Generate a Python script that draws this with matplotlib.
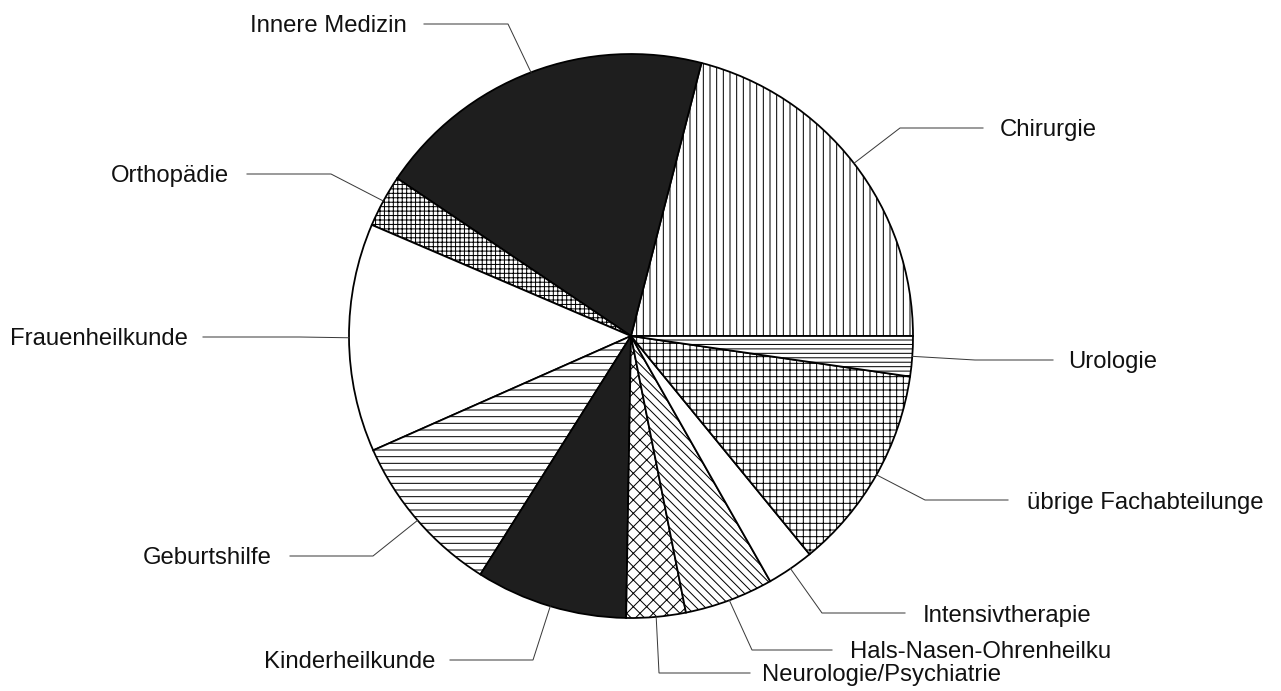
import matplotlib
matplotlib.use("Agg")
import matplotlib.pyplot as plt
import numpy as np

# ---- data (share in %) ----
categories = ["Chirurgie", "Innere Medizin", "Orthopädie", "Frauenheilkunde",
              "Geburtshilfe", "Kinderheilkunde", "Neurologie/Psychiatrie",
              "Hals-Nasen-Ohrenheilku", "Intensivtherapie",
              "übrige Fachabteilunge", "Urologie"]
values = [21.0, 19.6, 3.0, 13.1, 9.4, 8.7, 3.4, 5.1, 2.7, 11.8, 2.3]

# ---- styles ----
BLACK = "#1e1e1e"
fills = ["white", BLACK, "white", "white", "white", BLACK, "white",
         "white", "white", "white", "white"]
hatches = ["||", None, "+++", None, "--", None, "xx", "\\\\\\", None, "++", "---"]

# ---- label layout (pixel coords: text x, baseline y, ha, elbow x, elbow y, line start x) ----
label_layout = {
    "Chirurgie":              (1000, 136, "left", 900, 128, 983),
    "Innere Medizin":         (407, 32, "right", 508, 24, 424),
    "Orthopädie":             (229, 182, "right", 331, 174, 247),
    "Frauenheilkunde":        (188, 345, "right", 300, 337, 203),
    "Geburtshilfe":           (272, 564, "left_r", 373, 556, 290),
    "Kinderheilkunde":        (435, 668, "right", 533, 660, 450),
    "Neurologie/Psychiatrie": (762, 681, "left", 659, 673, 750),
    "Hals-Nasen-Ohrenheilku": (850, 658, "left", 752, 650, 832),
    "Intensivtherapie":       (923, 622, "left", 822, 613, 905),
    "übrige Fachabteilunge":  (1027, 509, "left", 925, 500, 1008),
    "Urologie":               (1068, 368, "left", 975, 360, 1053),
}

W, H, DPI = 1281, 691, 80
plt.rcParams["hatch.linewidth"] = 0.9
plt.rcParams["hatch.color"] = "black"
plt.rcParams["font.family"] = ["Liberation Sans", "DejaVu Sans"]

fig = plt.figure(figsize=(W / DPI, H / DPI), dpi=DPI)
ax = fig.add_axes([0, 0, 1, 1])

CX, CY, R = 631, 336, 282
wedges, _ = ax.pie(values, startangle=0, counterclock=False, center=(CX, CY),
                   radius=R, colors=fills,
                   wedgeprops=dict(edgecolor="black", linewidth=1.6))
for w, h in zip(wedges, hatches):
    if h:
        w.set_hatch(h)

ax.set_xlim(0, W)
ax.set_ylim(H, 0)
ax.set_aspect("equal")
ax.axis("off")

for w, name in zip(wedges, categories):
    tx, ty, ha, ex, ey, lx = label_layout[name]
    mid = np.deg2rad((w.theta1 + w.theta2) / 2)
    px = CX + R * np.cos(mid)
    py = CY + R * np.sin(mid)
    ax.plot([lx, ex, px], [ey, ey, py], color="#3a3a3a", lw=0.9,
            solid_joinstyle="miter", zorder=3)
    align = "right" if ha in ("right", "left_r") else "left"
    ax.text(tx, ty, name, ha=align, va="baseline", fontsize=21.5,
            color="#111111")

fig.savefig("out.png", dpi=DPI, facecolor="white")
